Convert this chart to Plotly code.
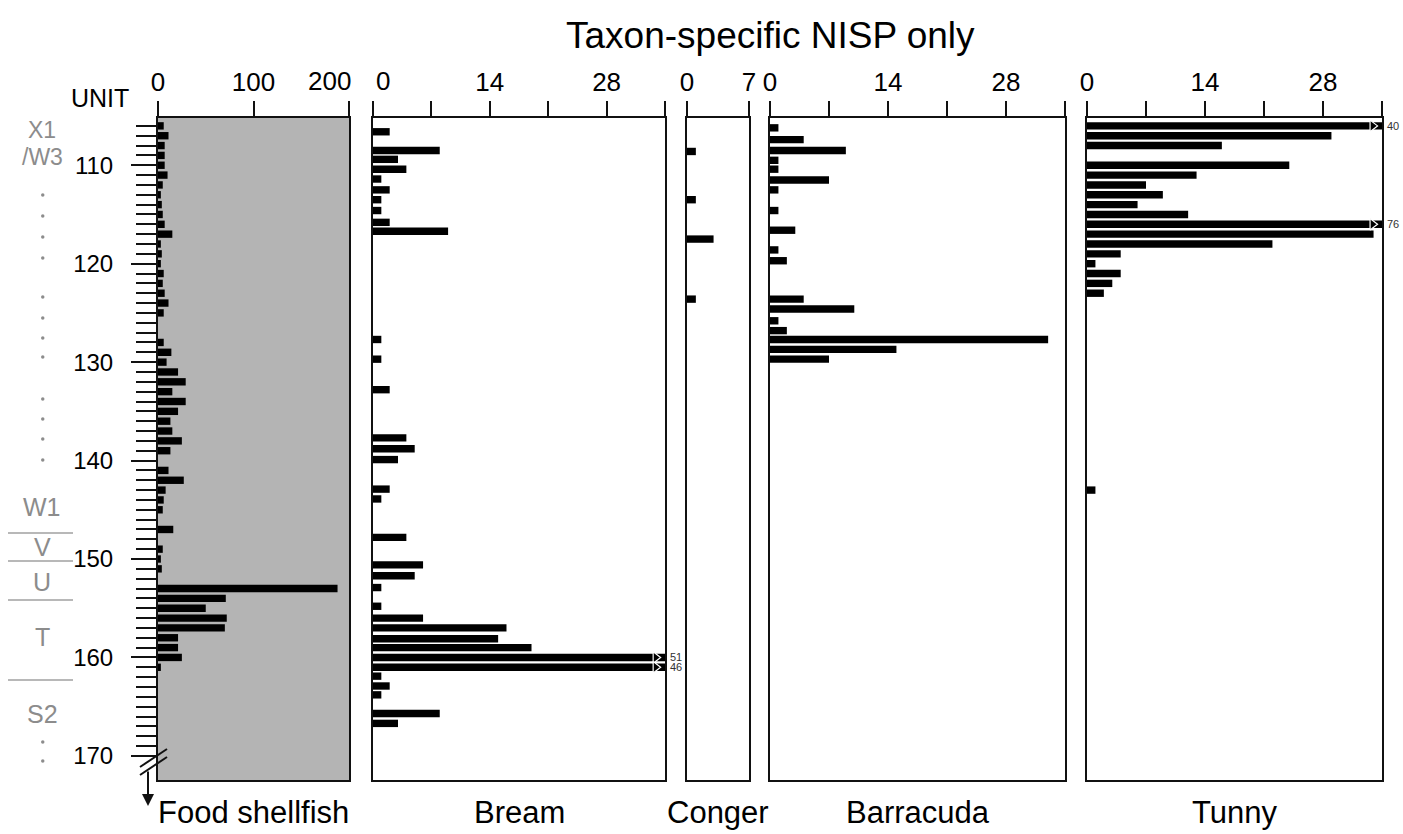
import plotly.graph_objects as go

# ---------------- data (NISP per excavation unit) ----------------
shellfish_units = list(range(106, 162))
shellfish_nisp = [6, 11, 7, 7, 7, 10, 5, 3, 4, 5, 7, 15, 3, 4, 3, 6, 5, 7, 11, 6,
                  0, 0, 6, 14, 9, 21, 29, 15, 29, 21, 13, 15, 25, 13, 0, 11, 27, 8,
                  6, 5, 0, 16, 0, 5, 3, 4, 0, 188, 71, 50, 72, 70, 21, 21, 25, 3]

bream_units = [106.6, 108.5, 109.4, 110.4, 111.4, 112.5, 113.5, 114.6, 115.8, 116.7,
               127.7, 129.7, 132.8, 137.7, 138.8, 139.9, 142.9, 143.9, 147.8,
               150.6, 151.7, 152.9, 154.8, 156, 157, 158.1, 159, 160, 161, 161.9,
               162.9, 163.8, 165.7, 166.7]
bream_nisp = [2, 8, 3, 4, 1, 2, 1, 1, 2, 9,
              1, 1, 2, 4, 5, 3, 2, 1, 4,
              6, 5, 1, 1, 6, 16, 15, 19, 51, 46, 1,
              2, 1, 8, 3]

conger_units = [108.6, 113.5, 117.5, 123.6]
conger_nisp = [1, 1, 3, 1]

barracuda_units = [106.2, 107.4, 108.5, 109.5, 110.4, 111.5, 112.5, 114.6, 116.6,
                   118.6, 119.7, 123.6, 124.6, 125.8, 126.8, 127.7, 128.7, 129.7]
barracuda_nisp = [1, 4, 9, 1, 1, 7, 1, 1, 3, 1, 2, 4, 10, 1, 2, 33, 15, 7]

tunny_units = [106, 107, 108, 110, 111, 112, 113, 114, 115, 116, 117, 118, 119,
               120, 121, 122, 123, 143]
tunny_nisp = [40, 29, 16, 24, 13, 7, 9, 6, 12, 76, 34, 22, 4, 1, 4, 3, 2, 1]

panel_names = ["Food shellfish", "Bream", "Conger", "Barracuda", "Tunny"]
panel_max = [200, 35, 7, 35, 35]
panel_ticks = [[0, 100, 200], [0, 7, 14, 21, 28, 35], [0, 7],
               [0, 7, 14, 21, 28, 35], [0, 7, 14, 21, 28, 35]]
# labels at the shared panel edges are set beside their ticks separately
panel_ticktext = [["0", "100", ""], ["", "", "14", "", "28", ""],
                  ["0", "7"], ["0", "", "14", "", "28", ""], ["0", "", "14", "", "28", ""]]
edge_labels = [(0, 200, "right", 4), (1, 0, "left", 1)]  # (panel, value, anchor, shift)
unit_ticks = list(range(110, 171, 10))

series = [(shellfish_units, shellfish_nisp), (bream_units, bream_nisp),
          (conger_units, conger_nisp), (barracuda_units, barracuda_nisp),
          (tunny_units, tunny_nisp)]

# ---------------- page geometry ----------------
W, H = 1403, 834
FONT = "Arial, Liberation Sans, sans-serif"
TICK_SIZE = 26


def px(x):
    return x / W


def py(y):
    return 1 - y / H


def label(x, y, text, size, color="black"):
    return dict(x=px(x), y=py(y), xref="paper", yref="paper", text=text,
                showarrow=False, xanchor="center", yanchor="middle",
                font=dict(size=size, family=FONT, color=color))


panel_px = [(158, 349), (373, 665), (687, 749), (770, 1065), (1087, 1382)]
y_dom = [py(780), py(118)]
y_range = [172.45, 105.2]

fig = go.Figure()
layout = dict(
    template="none",
    width=W, height=H, margin=dict(l=0, r=0, t=0, b=0, autoexpand=False),
    paper_bgcolor="white", plot_bgcolor="rgba(0,0,0,0)",
    showlegend=False, font=dict(family=FONT, color="black"),
    shapes=[], annotations=[],
)

for i, ((units, vals), (x0, x1)) in enumerate(zip(series, panel_px)):
    n = "" if i == 0 else str(i + 1)
    xa, ya = "x" + n, "y" + n
    xmax = panel_max[i]
    fig.add_trace(go.Bar(
        x=vals, y=units, orientation="h", width=0.75,
        marker=dict(color="black", line=dict(width=0)),
        xaxis=xa, yaxis=ya, hoverinfo="x+y",
    ))
    # values beyond the axis: arrow tip at the panel edge plus the count
    over_u = [u for u, v in zip(units, vals) if v > xmax]
    over_v = [v for v in vals if v > xmax]
    if over_u:
        fig.add_trace(go.Scatter(
            x=[xmax * 0.968] * len(over_u), y=over_u, mode="markers",
            marker=dict(symbol="triangle-right", size=10, color="black",
                        line=dict(color="white", width=1.2)),
            xaxis=xa, yaxis=ya, cliponaxis=False, hoverinfo="skip",
        ))
        for u, v in zip(over_u, over_v):
            layout["annotations"].append(dict(
                x=xmax, y=u, xref=xa, yref=ya, text=str(v), showarrow=False,
                xanchor="left", yanchor="middle", xshift=3,
                font=dict(size=11, color="#333"),
            ))

    layout["xaxis" + n] = dict(
        domain=[px(x0), px(x1)], anchor=ya, side="top", range=[0, xmax],
        automargin=False,
        tickmode="array", tickvals=panel_ticks[i], ticktext=panel_ticktext[i],
        ticks="outside", ticklen=15, tickwidth=2, tickcolor="#111",
        showline=True, linewidth=2, linecolor="#111", mirror=True,
        showgrid=False, zeroline=False, ticklabelstandoff=0,
        tickfont=dict(size=TICK_SIZE, family=FONT, color="black"), fixedrange=True,
    )
    yax = dict(
        domain=y_dom, anchor=xa, range=y_range, showgrid=False, zeroline=False,
        automargin=False,
        showline=True, linewidth=2, linecolor="#111", mirror=True, fixedrange=True,
    )
    if i == 0:
        yax.update(
            tickmode="array", tickvals=unit_ticks, ticks="outside", ticklen=25,
            tickwidth=2, tickcolor="#111", ticklabelstandoff=13,
            tickfont=dict(size=24, family=FONT, color="black"),
            minor=dict(tickmode="array", tickvals=list(range(106, 171)),
                       ticks="outside", ticklen=20, tickwidth=2, tickcolor="#111"),
        )
    else:
        yax.update(matches="y", showticklabels=False, ticks="")
    layout["yaxis" + n] = yax

    # panel name under each column
    layout["annotations"].append(label((x0 + x1) / 2, 812, panel_names[i], 31))

# tick labels at the touching panel edges, set beside the tick
for p, val, anchor, shift in edge_labels:
    n = "" if p == 0 else str(p + 1)
    layout["annotations"].append(dict(
        x=val, y=py(81), xref="x" + n, yref="paper", text=str(val),
        showarrow=False, xanchor=anchor, yanchor="middle",
        xshift=shift if anchor == "left" else shift,
        font=dict(size=TICK_SIZE, family=FONT, color="black"),
    ))

# grey background of the shellfish column
layout["shapes"].append(dict(
    type="rect", xref="x domain", yref="y domain", x0=0, x1=1, y0=0, y1=1,
    fillcolor="#b4b4b4", line=dict(width=0), layer="below",
))

# axis break marks at the foot of the unit axis and the continuation arrow
for dy in (0, 8):
    layout["shapes"].append(dict(
        type="line", xref="paper", yref="paper",
        x0=px(140), y0=py(767 + dy), x1=px(167), y1=py(749 + dy),
        line=dict(color="#111", width=2),
    ))
layout["annotations"].append(dict(
    x=px(148), y=py(806), xref="paper", yref="paper", ax=0, ay=-36,
    axref="pixel", ayref="pixel", text="", showarrow=True,
    arrowhead=2, arrowsize=1.2, arrowwidth=2, arrowcolor="#111",
))

# headings
layout["annotations"].append(label(770, 36, "Taxon-specific NISP only", 37))
layout["annotations"].append(label(100, 98, "UNIT", 25))

# stratigraphic units down the left margin
grey = "#8c8c8c"
strata = [("X1", 130, 23), ("/W3", 157, 23), ("W1", 507, 25), ("V", 547, 25),
          ("U", 582, 25), ("T", 637, 25), ("S2", 714, 25)]
for text, yy, size in strata:
    layout["annotations"].append(label(42, yy, text, size, grey))
for yy in (533, 561, 600, 680):
    layout["shapes"].append(dict(
        type="line", xref="paper", yref="paper", x0=px(8), x1=px(73),
        y0=py(yy), y1=py(yy), line=dict(color="#a0a0a0", width=1.5),
    ))
for yy in (195, 216, 237, 258, 297, 318, 338, 357, 399, 419, 439, 460, 742, 761):
    layout["shapes"].append(dict(
        type="circle", xref="paper", yref="paper",
        x0=px(41), x1=px(44.5), y0=py(yy + 1.75), y1=py(yy - 1.75),
        fillcolor=grey, line=dict(width=0),
    ))

fig.update_layout(**layout)
fig.write_html("out.html", config={"displayModeBar": False})
